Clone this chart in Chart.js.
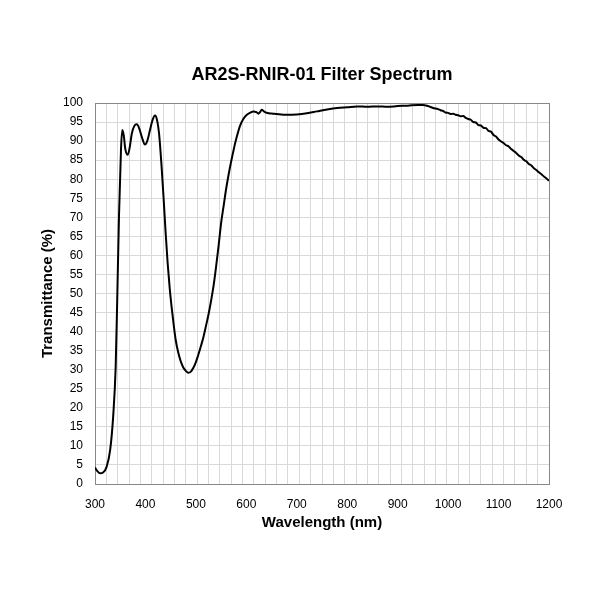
<!DOCTYPE html>
<html>
<head>
<meta charset="utf-8">
<script src="https://cdn.jsdelivr.net/npm/chart.js@4"></script>
<style>
  body { margin: 0; background: #fff; }
  #wrap { width: 600px; height: 600px; }
</style>
</head>
<body>
<div id="wrap"><canvas id="grafico" width="600" height="600"></canvas></div>
<script>
// 👉 Datos
const longitudes = [
  300, 305, 310, 316, 323, 330, 336, 341, 344, 347.5, 351.5, 354, 357, 360, 365, 369, 373, 378, 383, 388,
  393, 399, 404, 409, 414, 419, 423, 427, 432, 436, 440, 444, 448, 452, 456, 460, 465, 470, 475, 480,
  485, 490, 495, 500, 505, 510, 515, 520, 525, 530, 535, 540, 545, 550, 555, 560, 565, 570, 575, 580,
  587.5, 594, 601, 608, 614, 620, 624, 627, 630.5, 634, 637, 645, 653, 660, 680, 700, 720, 740, 760, 780,
  800, 820, 840, 860, 880, 900, 920, 940, 950, 960, 970, 980, 985, 990, 995, 1000, 1005, 1010, 1015, 1020,
  1025, 1030, 1035, 1040, 1045, 1050, 1055, 1060, 1065, 1070, 1075, 1080, 1085, 1090, 1095, 1100, 1105, 1110, 1115, 1120,
  1125, 1130, 1135, 1140, 1145, 1150, 1155, 1160, 1165, 1170, 1175, 1180, 1185, 1190, 1195, 1200
];
const transmitancia = [
  4.3, 3.3, 2.8, 3.0, 4.5, 8.9, 17.7, 30.8, 48, 70, 87.7, 92.9, 91.5, 88, 86.4, 88.5, 92, 94, 94.4, 93.2,
  91, 89.1, 90.2, 92.9, 95.5, 96.7, 95.5, 92, 83.3, 75, 66, 58, 51.5, 46.3, 41.8, 37.8, 34.5, 32.2, 30.6, 29.7,
  29.2, 29.5, 30.5, 32, 34, 36.2, 38.6, 41.5, 44.5, 48, 52, 57, 62.5, 68.5, 73, 77.5, 81.3, 84.7, 87.8, 90.6,
  94.0, 95.8, 96.9, 97.5, 97.8, 97.6, 97.2, 97.6, 98.2, 97.9, 97.6, 97.3, 97.2, 97.1, 96.9, 97.0, 97.3, 97.8, 98.3, 98.7,
  98.9, 99.1, 99.0, 99.1, 99.0, 99.2, 99.3, 99.5, 99.5, 99.2, 98.7, 98.4, 98.1, 97.9, 97.5, 97.4, 97.1, 97.2, 96.9, 96.8,
  96.5, 96.6, 96.1, 95.8, 95.6, 95.0, 94.9, 94.2, 94.1, 93.5, 93.4, 92.7, 92.5, 91.6, 91.2, 90.4, 89.9, 89.5, 88.9, 88.6,
  87.9, 87.4, 86.9, 86.2, 85.8, 85.1, 84.7, 84.0, 83.6, 82.9, 82.4, 81.8, 81.3, 80.7, 80.2, 79.6
];
const etiquetasX = [300, 400, 500, 600, 700, 800, 900, 1000, 1100, 1200];
const pasoRejillaX = 22.5;

const puntos = longitudes.map((l, i) => ({ x: l, y: transmitancia[i] }));

Chart.defaults.font.family = "'Liberation Sans', Arial, sans-serif";
Chart.defaults.color = "#000";

// 👉 Ticks: rejilla cada 22.5 nm + etiquetas cada 100 nm
const ticksRejilla = [];
for (let v = 300; v <= 1200.001; v += pasoRejillaX) ticksRejilla.push(Math.round(v * 10) / 10);
const todosTicks = [...new Set([...ticksRejilla, ...etiquetasX])].sort((a, b) => a - b);

new Chart(document.getElementById("grafico"), {
  type: "line",
  data: {
    datasets: [{
      data: puntos,
      borderColor: "#000",
      borderWidth: 2,
      pointRadius: 0,
      fill: false,
      cubicInterpolationMode: "monotone"
    }]
  },
  options: {
    responsive: false,
    animation: false,
    layout: { padding: { left: 39, right: 51, top: 64.2, bottom: 68 } },
    plugins: {
      legend: { display: false },
      tooltip: { enabled: false },
      title: {
        display: true,
        text: "AR2S-RNIR-01 Filter Spectrum",
        fullSize: false,
        color: "#000",
        font: { size: 18, weight: "bold" },
        padding: { top: 0, bottom: 17.2 }
      }
    },
    scales: {
      x: {
        type: "linear",
        min: 300,
        max: 1200,
        afterBuildTicks: axis => { axis.ticks = todosTicks.map(v => ({ value: v })); },
        afterFit: scale => { scale.height = 48; },
        ticks: {
          autoSkip: false,
          maxRotation: 0,
          padding: 13,
          font: { size: 12 },
          callback: v => etiquetasX.includes(v) ? String(v) : ""
        },
        grid: {
          drawTicks: false,
          color: ctx => {
            const v = ctx.tick ? ctx.tick.value : null;
            if (v === 1200) return "#888";
            return ticksRejilla.includes(v) ? "#d9d9d9" : "rgba(0,0,0,0)";
          }
        },
        border: { color: "#888", width: 1 },
        title: {
          display: true,
          text: "Wavelength (nm)",
          font: { size: 15, weight: "bold" },
          padding: { top: 0, bottom: 0 }
        }
      },
      y: {
        min: 0,
        max: 100,
        afterFit: scale => { scale.width = 56; },
        ticks: { stepSize: 5, padding: 12, font: { size: 12 } },
        grid: {
          drawTicks: false,
          color: ctx => (ctx.tick && ctx.tick.value === 100) ? "#888" : "#d9d9d9"
        },
        border: { color: "#888", width: 1 },
        title: {
          display: true,
          text: "Transmittance (%)",
          font: { size: 15, weight: "bold" },
          padding: { top: 0, bottom: 0 }
        }
      }
    }
  }
});
</script>
</body>
</html>
